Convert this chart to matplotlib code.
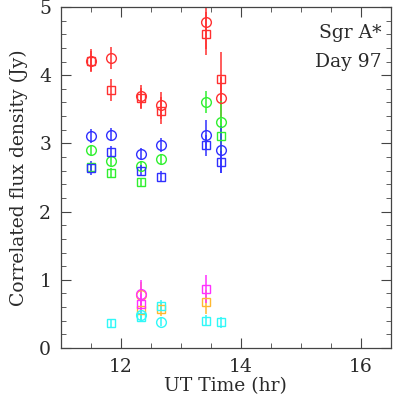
import matplotlib
matplotlib.use('Agg')
import matplotlib.pyplot as plt
from matplotlib.ticker import MultipleLocator

plt.rcParams['font.family'] = ['DejaVu Serif']

# red (circles / squares)
red_c_t = [11.5, 11.83, 12.33, 12.67, 13.42, 13.67]
red_c_f = [4.21, 4.25, 3.69, 3.56, 4.78, 3.67]
red_c_e = [0.17, 0.16, 0.17, 0.20, 0.40, 0.30]
red_s_t = [11.5, 11.83, 12.33, 12.67, 13.42, 13.67]
red_s_f = [4.21, 3.78, 3.66, 3.48, 4.61, 3.95]
red_s_e = [0.15, 0.16, 0.15, 0.20, 0.31, 0.39]

# green
grn_c_t = [11.5, 11.83, 12.33, 12.67, 13.42, 13.67]
grn_c_f = [2.90, 2.74, 2.67, 2.77, 3.61, 3.32]
grn_c_e = [0.07, 0.07, 0.07, 0.07, 0.16, 0.30]
grn_s_t = [11.5, 11.83, 12.33, 13.67]
grn_s_f = [2.65, 2.57, 2.43, 3.11]
grn_s_e = [0.06, 0.07, 0.07, 0.25]

# blue
blu_c_t = [11.5, 11.83, 12.33, 12.67, 13.42, 13.67]
blu_c_f = [3.11, 3.13, 2.85, 2.98, 3.13, 2.91]
blu_c_e = [0.10, 0.10, 0.08, 0.10, 0.22, 0.34]
blu_s_t = [11.5, 11.83, 12.33, 12.67, 13.42, 13.67]
blu_s_f = [2.64, 2.88, 2.60, 2.51, 2.97, 2.73]
blu_s_e = [0.10, 0.08, 0.08, 0.08, 0.15, 0.16]

# magenta
mag_c_t = [12.33]
mag_c_f = [0.79]
mag_c_e = [0.20]
mag_s_t = [12.33, 13.42]
mag_s_f = [0.645, 0.865]
mag_s_e = [0.15, 0.20]

# orange
orn_c_t = [12.33]
orn_c_f = [0.77]
orn_c_e = [0.20]
orn_s_t = [12.33, 12.67, 13.42]
orn_s_f = [0.56, 0.57, 0.675]
orn_s_e = [0.15, 0.10, 0.17]

# cyan
cyn_c_t = [12.33, 12.67]
cyn_c_f = [0.48, 0.38]
cyn_c_e = [0.06, 0.06]
cyn_s_t = [11.83, 12.33, 12.67, 13.42, 13.67]
cyn_s_f = [0.36, 0.46, 0.62, 0.40, 0.376]
cyn_s_e = [0.07, 0.06, 0.08, 0.08, 0.08]

series = [
    (red_c_t, red_c_f, red_c_e, 'o', '#ff3030'),
    (red_s_t, red_s_f, red_s_e, 's', '#ff3030'),
    (grn_c_t, grn_c_f, grn_c_e, 'o', '#30f030'),
    (grn_s_t, grn_s_f, grn_s_e, 's', '#30f030'),
    (blu_c_t, blu_c_f, blu_c_e, 'o', '#3030ff'),
    (blu_s_t, blu_s_f, blu_s_e, 's', '#3030ff'),
    (orn_c_t, orn_c_f, orn_c_e, 'o', '#ffb830'),
    (orn_s_t, orn_s_f, orn_s_e, 's', '#ffb830'),
    (mag_c_t, mag_c_f, mag_c_e, 'o', '#ff30ff'),
    (mag_s_t, mag_s_f, mag_s_e, 's', '#ff30ff'),
    (cyn_c_t, cyn_c_f, cyn_c_e, 'o', '#30f8f8'),
    (cyn_s_t, cyn_s_f, cyn_s_e, 's', '#30f8f8'),
]

FS = 13.5
TXT = '#2a2a2a'

fig = plt.figure(figsize=(4.03, 4.00), dpi=100)
ax = fig.add_axes([0.151, 0.13, 0.819, 0.8525])

for t, f, e, m, c in series:
    ms = 7 if m == 'o' else 5.3
    ax.errorbar(t, f, yerr=e, fmt=m, mfc='none', mec=c, ecolor=c,
                ms=ms, mew=1, elinewidth=1.1, capsize=0)

ax.set_xlim(11, 16.5)
ax.set_ylim(0, 5)
ax.xaxis.set_major_locator(MultipleLocator(2))
ax.xaxis.set_minor_locator(MultipleLocator(0.5))
ax.yaxis.set_major_locator(MultipleLocator(1))
ax.yaxis.set_minor_locator(MultipleLocator(0.2))
ax.tick_params(which='both', direction='in', top=True, right=True,
               labelsize=FS, color='#444444', labelcolor=TXT)
ax.tick_params(which='major', length=7)
ax.tick_params(which='minor', length=3.5)
ax.tick_params(axis='x', which='major', pad=7)
ax.tick_params(axis='y', which='major', pad=7)
for sp in ax.spines.values():
    sp.set_color('#444444')
    sp.set_linewidth(0.9)

ax.set_xlabel('UT Time (hr)', fontsize=FS, color=TXT, labelpad=1)
ax.set_ylabel('Correlated flux density (Jy)', fontsize=FS, color=TXT, labelpad=8)

ax.text(0.972, 0.924, 'Sgr A*', transform=ax.transAxes, ha='right', va='center',
        fontsize=FS, color=TXT)
ax.text(0.972, 0.839, 'Day 97', transform=ax.transAxes, ha='right', va='center',
        fontsize=FS, color=TXT)

plt.savefig('out.png', dpi=100)
